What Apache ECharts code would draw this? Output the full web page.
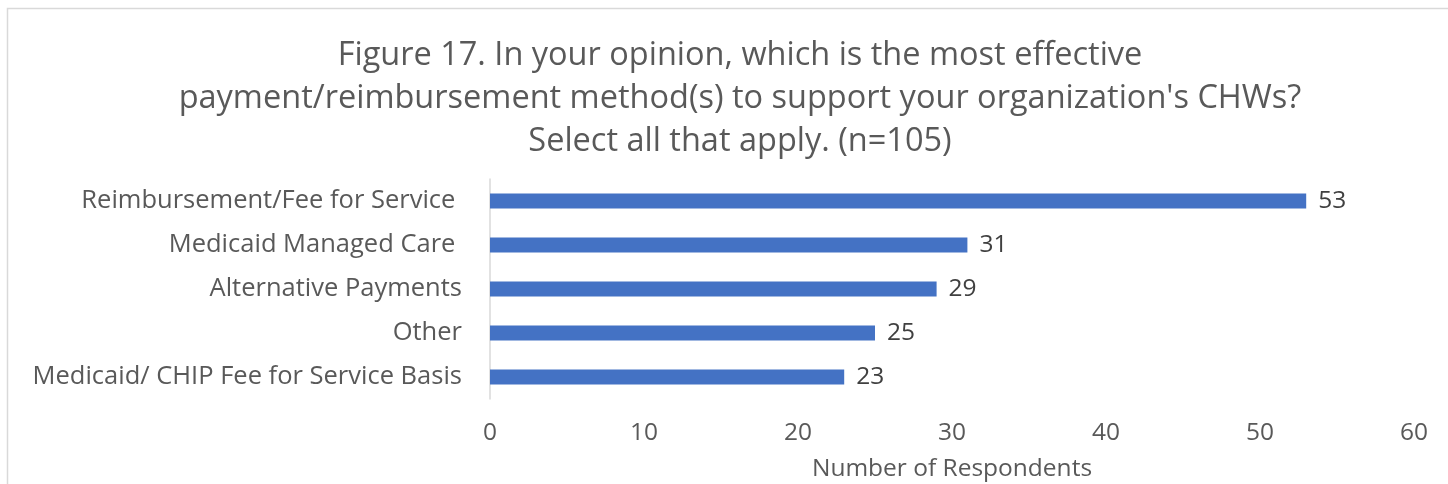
<!DOCTYPE html>
<html><head><meta charset="utf-8">
<script src="https://cdn.jsdelivr.net/npm/echarts@6/dist/echarts.min.js"></script>
<style>html,body{margin:0;padding:0;background:#fff}#c{width:1448px;height:484px}</style>
</head><body><div id="c"></div>
<script>
const categories = [
  "Medicaid/ CHIP Fee for Service Basis",
  "Other",
  "Alternative Payments",
  "Medicaid Managed Care ",
  "Reimbursement/Fee for Service "
];
const respondents = [23, 25, 29, 31, 53];
const xTicks = [0, 10, 20, 30, 40, 50, 60];
const titleText = "Figure 17. In your opinion, which is the most effective\npayment/reimbursement method(s) to support your organization's CHWs?\nSelect all that apply. (n=105)";
const xAxisTitle = "Number of Respondents";

const font = "'Open Sans', 'Noto Sans', sans-serif";
const chart = echarts.init(document.getElementById('c'), null, {renderer: 'canvas'});
chart.setOption({
  animation: false,
  backgroundColor: '#fff',
  graphic: [{
    type: 'rect', shape: {x: 7.5, y: 8.5, width: 1460, height: 500},
    style: {fill: 'none', stroke: '#d9d9d9', lineWidth: 1.5}, silent: true
  }],
  title: {
    text: titleText, left: 735, textAlign: 'center', top: 29,
    textStyle: {fontFamily: font, fontSize: 32.5, fontWeight: 'normal', color: '#595959', lineHeight: 43}
  },
  grid: {left: 490, right: 34, top: 179, height: 220, containLabel: false},
  xAxis: {
    type: 'value', min: xTicks[0], max: xTicks[xTicks.length - 1], interval: 10,
    axisLine: {show: false}, axisTick: {show: false}, splitLine: {show: false},
    axisLabel: {fontFamily: font, fontSize: 24.5, color: '#595959', margin: 22},
    name: xAxisTitle, nameLocation: 'middle', nameGap: 58,
    nameTextStyle: {fontFamily: font, fontSize: 24.5, color: '#595959'}
  },
  yAxis: {
    type: 'category', data: categories,
    axisLine: {show: true, lineStyle: {color: '#d9d9d9', width: 1.5}},
    axisTick: {show: false},
    axisLabel: {fontFamily: font, fontSize: 25.5, color: '#595959', margin: 28}
  },
  series: [{
    type: 'bar', data: respondents, barWidth: 15,
    itemStyle: {color: '#4472C4'},
    label: {show: true, position: 'right', distance: 12, fontFamily: font, fontSize: 24.5, color: '#404040'}
  }]
});
</script></body></html>
